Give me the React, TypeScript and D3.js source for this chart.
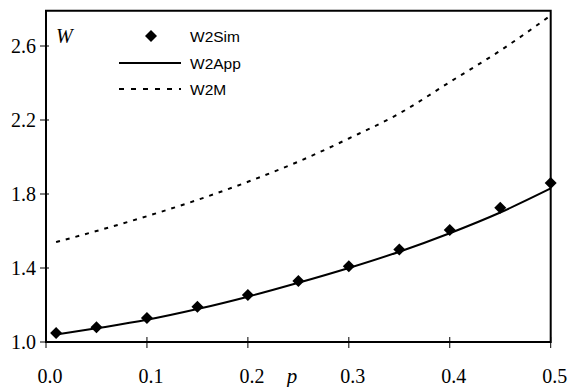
import React from 'react';
import * as d3 from 'd3';

// data
const pValues = [0.01, 0.05, 0.1, 0.15, 0.2, 0.25, 0.3, 0.35, 0.4, 0.45, 0.5];
const w2Sim = [1.049, 1.08, 1.13, 1.19, 1.254, 1.33, 1.41, 1.5, 1.605, 1.725, 1.86];
const w2App = [1.04, 1.074, 1.12, 1.178, 1.245, 1.32, 1.4, 1.488, 1.588, 1.7, 1.83];
const w2M = [1.54, 1.6, 1.68, 1.768, 1.866, 1.975, 2.1, 2.235, 2.405, 2.575, 2.765];
const xTicks = [0, 0.1, 0.2, 0.3, 0.4, 0.5];
const yTicks = [1.0, 1.4, 1.8, 2.2, 2.6];

const W = 570;
const H = 387;
const left = 46;
const right = 550.7;
const bottom = 342;

export default function App() {
  const x = d3.scaleLinear().domain([0, 0.5]).range([left, right]);
  const y = d3.scaleLinear().domain([1.0, 2.6]).range([bottom, 46]);
  const top = y(2.79);

  const line = d3
    .line<number>()
    .x((_, i) => x(pValues[i]))
    .y((d) => y(d))
    .curve(d3.curveMonotoneX);

  const diamond = d3.symbol().type(d3.symbolSquare).size(72)();

  const serif = '"Liberation Serif", "Times New Roman", serif';
  const sans = '"Liberation Sans", Arial, sans-serif';

  return (
    <svg width={W} height={H} style={{ position: 'absolute', left: 0, top: 0, background: '#fff' }}>
      {/* plot frame */}
      <path
        d={`M${left},${top}H${right}V${bottom}H${left}Z`}
        fill="none"
        stroke="#000"
        strokeWidth={2}
      />

      {/* y ticks */}
      {yTicks.map((t) => (
        <g key={'y' + t}>
          <line x1={left - 6} x2={left + 3} y1={y(t)} y2={y(t)} stroke="#000" strokeWidth={1} />
          <text
            x={left - 10}
            y={y(t)}
            dy="0.36em"
            textAnchor="end"
            fontFamily={serif}
            fontSize={20}
            fill="#000"
          >
            {t.toFixed(1)}
          </text>
        </g>
      ))}

      {/* x ticks */}
      {xTicks.map((t) => (
        <g key={'x' + t}>
          <line x1={x(t)} x2={x(t)} y1={bottom - 5} y2={bottom + 6} stroke="#000" strokeWidth={1} />
          <text
            x={x(t) + 4}
            y={383}
            textAnchor="middle"
            fontFamily={serif}
            fontSize={20}
            fill="#000"
          >
            {t.toFixed(1)}
          </text>
        </g>
      ))}

      {/* axis titles */}
      <text x={292} y={383} textAnchor="middle" fontFamily={serif} fontStyle="italic" fontSize={21} fill="#000">
        p
      </text>
      <text x={56} y={43} fontFamily={serif} fontStyle="italic" fontSize={20} fill="#000">
        W
      </text>

      {/* series */}
      <path d={line(w2M) ?? ''} fill="none" stroke="#000" strokeWidth={2} strokeDasharray="4 6" />
      <path d={line(w2App) ?? ''} fill="none" stroke="#000" strokeWidth={2} />
      {w2Sim.map((v, i) => (
        <path
          key={'s' + i}
          d={diamond ?? ''}
          transform={`translate(${x(pValues[i])},${y(v)}) rotate(45)`}
          fill="#000"
        />
      ))}

      {/* legend */}
      <g fontFamily={sans} fontSize={15.5} fill="#000">
        <path d={diamond ?? ''} transform="translate(151,36) rotate(45)" fill="#000" />
        <text x={190} y={36} dy="0.36em">W2Sim</text>
        <line x1={119} x2={181} y1={63} y2={63} stroke="#000" strokeWidth={2} />
        <text x={190} y={63} dy="0.36em">W2App</text>
        <line x1={119} x2={181} y1={89} y2={89} stroke="#000" strokeWidth={2} strokeDasharray="5 7" />
        <text x={190} y={89} dy="0.36em">W2M</text>
      </g>
    </svg>
  );
}
